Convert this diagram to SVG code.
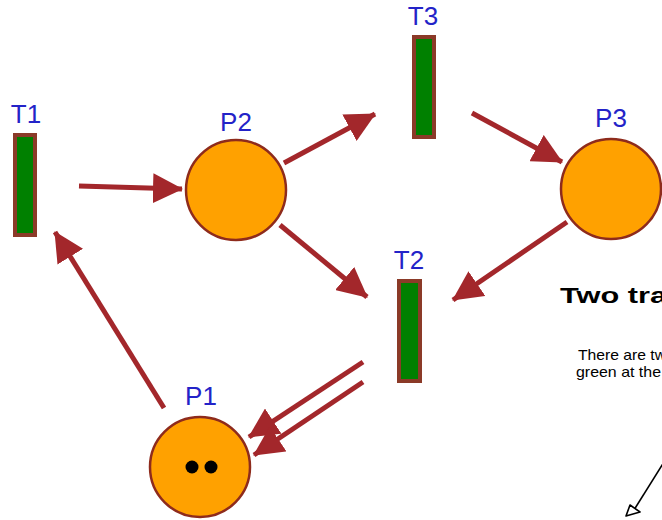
<svg xmlns="http://www.w3.org/2000/svg" width="662" height="520" viewBox="0 0 662 520">
<defs>
<style>
.lbl{font-family:"Liberation Sans",Arial,sans-serif;font-size:26px;fill:#2323c8;text-anchor:middle}
.place{fill:#ffa100;stroke:#8e2b1c;stroke-width:2.5}
.trans{fill:#008000;stroke:#8b3a28;stroke-width:4}
.arc{stroke:#a3272b;stroke-width:5;fill:none;marker-end:url(#ah)}
.tok{fill:#000}
.note{font-family:"Liberation Sans",Arial,sans-serif;fill:#000}
</style>
<marker id="ah" viewBox="0 0 30 30" refX="29" refY="15" markerWidth="30" markerHeight="30" markerUnits="userSpaceOnUse" orient="auto">
<path d="M0,0 L30,15 L0,30 z" fill="#a3272b"/>
</marker>
</defs>
<rect width="662" height="520" fill="#fff"/>
<g id="connectors">
<line class="arc" x1="79" y1="186" x2="182" y2="189"/>
<line class="arc" x1="284" y1="163" x2="375" y2="114"/>
<line class="arc" x1="472" y1="113" x2="562" y2="162"/>
<line class="arc" x1="567" y1="222" x2="453" y2="300"/>
<line class="arc" x1="280" y1="225" x2="367" y2="297"/>
<line class="arc" x1="363" y1="362" x2="249" y2="437"/>
<line class="arc" x1="363" y1="382" x2="254" y2="455"/>
<line class="arc" x1="164" y1="408" x2="55" y2="232"/>
</g>
<g id="T1"><rect class="trans" x="15" y="135" width="20" height="100"/><text class="lbl" x="26" y="123">T1</text></g>
<g id="T2"><rect class="trans" x="399" y="281" width="21" height="100"/><text class="lbl" x="409" y="269">T2</text></g>
<g id="T3"><rect class="trans" x="414" y="37" width="20" height="100"/><text class="lbl" x="423" y="25">T3</text></g>
<g id="P1"><circle class="place" cx="200" cy="467" r="50"/><circle class="tok" cx="192" cy="467" r="6.5"/><circle class="tok" cx="211" cy="467" r="6.5"/><text class="lbl" x="201" y="405">P1</text></g>
<g id="P2"><circle class="place" cx="236" cy="190" r="50"/><text class="lbl" x="236" y="131">P2</text></g>
<g id="P3"><circle class="place" cx="611" cy="189" r="50"/><text class="lbl" x="611" y="127">P3</text></g>
<g id="note">
<text class="note" x="560" y="303" font-size="22" font-weight="bold" textLength="107" lengthAdjust="spacingAndGlyphs">Two tra</text>
<text class="note" x="578" y="360" font-size="14.5" textLength="88" lengthAdjust="spacingAndGlyphs">There are tw</text>
<text class="note" x="576" y="377" font-size="14.5" textLength="85" lengthAdjust="spacingAndGlyphs">green at the</text>
<line x1="664" y1="462" x2="634" y2="510" stroke="#000" stroke-width="1.6"/>
<polygon points="626,516 630,505 640,512" fill="#fff" stroke="#000" stroke-width="1.6" stroke-linejoin="round"/>
</g>
</svg>
